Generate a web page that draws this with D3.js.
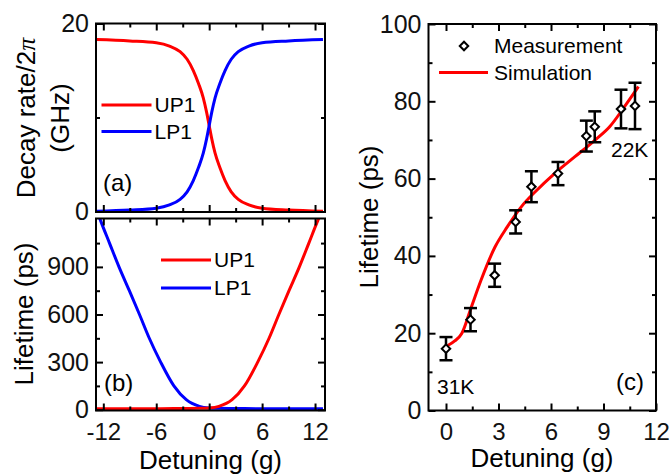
<!DOCTYPE html>
<html>
<head>
<meta charset="utf-8">
<script src="https://cdn.jsdelivr.net/npm/d3@7"></script>
<style>
  body { margin: 0; background: #fff; }
  svg { display: block; font-family: "Liberation Sans", Arial, sans-serif; }
  .tick text { font-size: 24px; fill: #111; }
  .yax .tick text { font-size: 25px; }
  .tick line { stroke: #000; stroke-width: 2px; }
</style>
</head>
<body>
<div id="chart"></div>
<script>
// ---- values ----
// (a) decay rate / 2pi (GHz) vs detuning (g)
const detuningA = [-12.8, -9, -6, -4.5, -3.3, -2.5, -1.8, -1.2, -0.67, -0.3, 0, 0.3, 0.67, 1.2, 1.8, 2.5, 3.3, 4.5, 6, 9, 12.9];
const up1Decay = [18.3, 18.15, 17.95, 17.6, 17.0, 16.2, 15.0, 13.6, 12.1, 10.6, 9.15, 7.7, 6.2, 4.7, 3.3, 2.1, 1.3, 0.7, 0.35, 0.15, 0.02];
const lp1Decay = [0.02, 0.15, 0.35, 0.7, 1.3, 2.1, 3.3, 4.7, 6.2, 7.7, 9.15, 10.6, 12.1, 13.6, 15.0, 16.2, 17.0, 17.6, 17.95, 18.15, 18.3];

// (b) lifetime (ps) vs detuning (g)
const detuningB = [-12.8, -12.3, -11.3, -10.2, -9.05, -7.9, -6.8, -5.5, -4.0, -2.6, -1.1, 0, 1.1, 2.6, 4.0, 5.5, 6.8, 7.9, 9.05, 10.2, 11.3, 12.3, 12.9];
const up1Lifetime = [6, 6, 6, 6, 6, 6, 6, 6.5, 7, 7.5, 8.5, 11, 21, 63, 150, 300, 452, 600, 750, 897, 1050, 1190, 1265];
const lp1Lifetime = [1265, 1190, 1050, 897, 750, 600, 452, 300, 150, 63, 21, 11, 8.5, 7.5, 7, 6.5, 6, 6, 6, 6, 6, 6, 6];

// (c) measured lifetime with error bars, and simulation
const measDetuning = [0, 1.4, 2.78, 3.98, 4.88, 6.4, 8.02, 8.5, 10.0, 10.8];
const measLifetime = [16, 23.5, 35, 48.8, 57.9, 61.3, 71, 73.4, 78, 78.8];
const measError = [3, 3, 3, 3, 4, 3, 4, 4, 5, 6];
const simDetuning = [0.1, 0.5, 0.9, 1.45, 2.0, 2.8, 3.5, 4.3, 5.1, 6.2, 7.35, 8.5, 9.35, 10.2, 11.0];
const simLifetime = [16.8, 18.0, 19.9, 26.8, 33.7, 42.3, 47.5, 52.7, 56.6, 61.3, 65.6, 69.9, 73.4, 78.6, 83.8];

// ticks
const ticksAB = [-12, -6, 0, 6, 12];
const minorAB = [-9, -3, 3, 9];
const ticksDecay = [0, 20];
const minorDecay = [10];
const ticksLife = [0, 300, 600, 900];
const minorLife = [150, 450, 750, 1050];
const ticksC = [0, 3, 6, 9, 12];
const minorC = [1.5, 4.5, 7.5, 10.5];
const ticksLifeC = [0, 20, 40, 60, 80, 100];
const minorLifeC = [10, 30, 50, 70, 90];

const RED = '#ff0000', BLUE = '#0000ff';

const svg = d3.select('#chart').append('svg')
    .attr('width', 670)
    .attr('height', 476);

// draw frame + inward ticks on all four sides
function drawAxes(g, x, y, opt) {
  const [x0, x1] = x.range();
  const [y0, y1] = y.range();
  const fmt = d => String(d);

  const axes = [
    { a: d3.axisBottom(x), t: `translate(0,${y0})`, major: opt.xMajor, minor: opt.xMinor, labels: opt.xLabels, pad: 12, cls: 'xax' },
    { a: d3.axisTop(x), t: `translate(0,${y1})`, major: opt.xMajor, minor: opt.xMinor, labels: false, pad: 0, cls: 'xax' },
    { a: d3.axisLeft(y), t: `translate(${x0},0)`, major: opt.yMajor, minor: opt.yMinor, labels: true, pad: 7, cls: 'yax' },
    { a: d3.axisRight(y), t: `translate(${x1},0)`, major: opt.yMajor, minor: opt.yMinor, labels: false, pad: 0, cls: 'yax' }
  ];
  axes.forEach(ax => {
    const gMaj = g.append('g').attr('class', ax.cls).attr('transform', ax.t)
        .call(ax.a.tickValues(ax.major).tickSize(-7).tickSizeOuter(0)
          .tickPadding(ax.pad).tickFormat(ax.labels ? fmt : ''));
    gMaj.select('.domain').remove();
    const gMin = g.append('g').attr('transform', ax.t)
        .call(ax.a.tickValues(ax.minor).tickSize(-4).tickFormat(''));
    gMin.select('.domain').remove();
  });
  g.selectAll('.tick text').attr('font-family', null).attr('font-size', null);

  g.append('rect')
      .attr('x', x0).attr('y', y1)
      .attr('width', x1 - x0).attr('height', y0 - y1)
      .attr('fill', 'none').attr('stroke', '#000').attr('stroke-width', 2);
}

function clipFor(id, x, y) {
  const [x0, x1] = x.range();
  const [y0, y1] = y.range();
  svg.append('clipPath').attr('id', id).append('rect')
      .attr('x', x0).attr('y', y1).attr('width', x1 - x0).attr('height', y0 - y1);
  return `url(#${id})`;
}

function addLegendLine(g, x1, x2, yy, color, label) {
  g.append('line').attr('x1', x1).attr('x2', x2).attr('y1', yy).attr('y2', yy)
      .attr('stroke', color).attr('stroke-width', 3);
  g.append('text').attr('x', x2 + 3).attr('y', yy).attr('dy', '0.35em')
      .attr('font-size', 21).text(label);
}

// ---------------- panel (a) ----------------
const xA = d3.scaleLinear().domain([-12.83, 13.13]).range([96, 325]);
const yA = d3.scaleLinear().domain([-0.05, 20]).range([212, 23.5]);
const gA = svg.append('g');
const lineA = (vals) => d3.line().x((d, i) => xA(detuningA[i])).y(d => yA(d)).curve(d3.curveMonotoneX)(vals);
const clipA = clipFor('clipA', xA, yA);
gA.append('path').attr('d', lineA(up1Decay)).attr('clip-path', clipA)
    .attr('fill', 'none').attr('stroke', RED).attr('stroke-width', 3);
gA.append('path').attr('d', lineA(lp1Decay)).attr('clip-path', clipA)
    .attr('fill', 'none').attr('stroke', BLUE).attr('stroke-width', 3);
drawAxes(gA, xA, yA, { xMajor: ticksAB, xMinor: minorAB, xLabels: false, yMajor: ticksDecay, yMinor: minorDecay });
addLegendLine(gA, 101.5, 151.5, 105, RED, 'UP1');
addLegendLine(gA, 101.5, 151.5, 131.5, BLUE, 'LP1');
gA.append('text').attr('x', 103).attr('y', 183).attr('dy', '0.35em').attr('font-size', 24).text('(a)');

const titleA = gA.append('text').attr('transform', 'translate(26,118) rotate(-90)')
    .attr('text-anchor', 'middle').attr('dy', '0.35em').attr('font-size', 26);
titleA.append('tspan').text('Decay rate/2');
titleA.append('tspan').attr('font-family', '"Liberation Serif", serif').attr('font-style', 'italic').text('π');
gA.append('text').attr('transform', 'translate(60,118) rotate(-90)')
    .attr('text-anchor', 'middle').attr('dy', '0.35em').attr('font-size', 26).text('(GHz)');

// ---------------- panel (b) ----------------
const xB = d3.scaleLinear().domain([-12.83, 13.13]).range([96, 325]);
const yB = d3.scaleLinear().domain([-5, 1205]).range([410.5, 218.5]);
const gB = svg.append('g');
const lineB = (vals) => d3.line().x((d, i) => xB(detuningB[i])).y(d => yB(d)).curve(d3.curveMonotoneX)(vals);
const clipB = clipFor('clipB', xB, yB);
gB.append('path').attr('d', lineB(lp1Lifetime)).attr('clip-path', clipB)
    .attr('fill', 'none').attr('stroke', BLUE).attr('stroke-width', 3);
gB.append('path').attr('d', lineB(up1Lifetime)).attr('clip-path', clipB)
    .attr('fill', 'none').attr('stroke', RED).attr('stroke-width', 3);
drawAxes(gB, xB, yB, { xMajor: ticksAB, xMinor: minorAB, xLabels: true, yMajor: ticksLife, yMinor: minorLife });
addLegendLine(gB, 161, 211, 260, RED, 'UP1');
addLegendLine(gB, 161, 211, 288, BLUE, 'LP1');
gB.append('text').attr('x', 104).attr('y', 383).attr('dy', '0.35em').attr('font-size', 24).text('(b)');
gB.append('text').attr('transform', 'translate(24,314) rotate(-90)')
    .attr('text-anchor', 'middle').attr('dy', '0.35em').attr('font-size', 26).text('Lifetime (ps)');
gB.append('text').attr('x', 210.5).attr('y', 460).attr('dy', '0.35em')
    .attr('text-anchor', 'middle').attr('font-size', 26).text('Detuning (g)');

// ---------------- panel (c) ----------------
const xC = d3.scaleLinear().domain([-1, 12]).range([428.5, 656]);
const yC = d3.scaleLinear().domain([0, 100]).range([410.5, 24]);
const gC = svg.append('g');

gC.append('path')
    .attr('d', d3.line().x((d, i) => xC(simDetuning[i])).y(d => yC(d)).curve(d3.curveMonotoneX)(simLifetime))
    .attr('fill', 'none').attr('stroke', RED).attr('stroke-width', 3);

const meas = measDetuning.map((d, i) => ({ x: d, y: measLifetime[i], e: measError[i] }));
const bars = gC.selectAll('.err').data(meas).join('g').attr('class', 'err')
    .attr('stroke', '#000').attr('stroke-width', 2.5);
bars.append('line').attr('x1', d => xC(d.x)).attr('x2', d => xC(d.x))
    .attr('y1', d => yC(d.y - d.e)).attr('y2', d => yC(d.y + d.e));
bars.append('line').attr('x1', d => xC(d.x) - 6.5).attr('x2', d => xC(d.x) + 6.5)
    .attr('y1', d => yC(d.y + d.e)).attr('y2', d => yC(d.y + d.e));
bars.append('line').attr('x1', d => xC(d.x) - 6.5).attr('x2', d => xC(d.x) + 6.5)
    .attr('y1', d => yC(d.y - d.e)).attr('y2', d => yC(d.y - d.e));

const diamond = d3.symbol().type(d3.symbolSquare).size(36);
gC.selectAll('.pt').data(meas).join('path').attr('class', 'pt')
    .attr('d', diamond)
    .attr('transform', d => `translate(${xC(d.x)},${yC(d.y)}) rotate(45)`)
    .attr('fill', '#fff').attr('stroke', '#000').attr('stroke-width', 2);

drawAxes(gC, xC, yC, { xMajor: ticksC, xMinor: minorC, xLabels: true, yMajor: ticksLifeC, yMinor: minorLifeC });

// legend (c)
gC.append('path').attr('d', diamond).attr('transform', 'translate(464,46) rotate(45)')
    .attr('fill', '#fff').attr('stroke', '#000').attr('stroke-width', 2);
gC.append('text').attr('x', 494).attr('y', 46).attr('dy', '0.35em').attr('font-size', 21).text('Measurement');
gC.append('line').attr('x1', 439).attr('x2', 488).attr('y1', 72.5).attr('y2', 72.5)
    .attr('stroke', RED).attr('stroke-width', 3);
gC.append('text').attr('x', 494).attr('y', 72.5).attr('dy', '0.35em').attr('font-size', 21).text('Simulation');

gC.append('text').attr('x', 437).attr('y', 387).attr('dy', '0.35em').attr('font-size', 21).text('31K');
gC.append('text').attr('x', 611).attr('y', 150).attr('dy', '0.35em').attr('font-size', 21).text('22K');
gC.append('text').attr('x', 616).attr('y', 382).attr('dy', '0.35em').attr('font-size', 24).text('(c)');

gC.append('text').attr('transform', 'translate(369,217) rotate(-90)')
    .attr('text-anchor', 'middle').attr('dy', '0.35em').attr('font-size', 26).text('Lifetime (ps)');
gC.append('text').attr('x', 542).attr('y', 458).attr('dy', '0.35em')
    .attr('text-anchor', 'middle').attr('font-size', 26).text('Detuning (g)');
</script>
</body>
</html>
